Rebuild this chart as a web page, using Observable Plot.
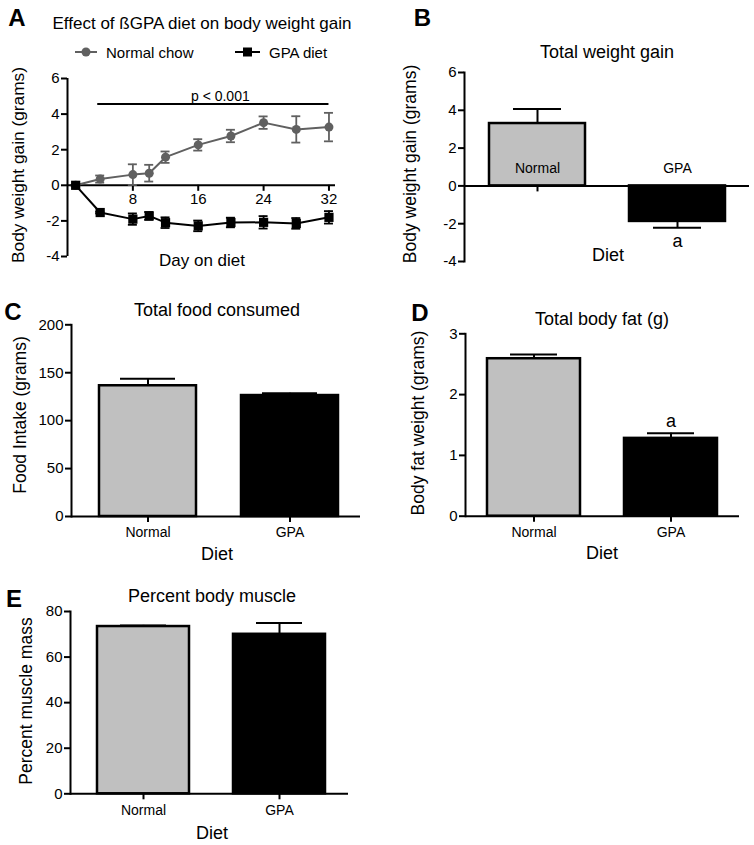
<!DOCTYPE html>
<html><head><meta charset="utf-8">
<script src="https://cdn.jsdelivr.net/npm/d3@7"></script>
<script src="https://cdn.jsdelivr.net/npm/@observablehq/plot@0.6"></script>
<style>
body{margin:0;background:#fff;}
#fig{position:relative;width:754px;height:845px;overflow:hidden;font-family:"Liberation Sans",Arial,Helvetica,sans-serif;color:#000;background:#fff;}
.t{position:absolute;white-space:nowrap;line-height:1;transform:translate(-50%,-50%);}
.l{position:absolute;white-space:nowrap;line-height:1;transform:translate(0,-50%);}
.rot{transform:translate(-50%,-50%) rotate(-90deg);}
.panel{position:absolute;}
.letter{font-weight:bold;font-size:24px;}
</style></head><body><div id="fig"></div>
<script>
// ---------- Panel A data ----------
const days = [1, 4, 8, 10, 12, 16, 20, 24, 28, 32];
const normalChow = [0, 0.35, 0.6, 0.68, 1.58, 2.27, 2.77, 3.52, 3.14, 3.27];
const normalChowErr = [0, 0.2, 0.58, 0.47, 0.32, 0.32, 0.35, 0.35, 0.74, 0.8];
const gpaDiet = [0, -1.53, -1.9, -1.72, -2.1, -2.28, -2.09, -2.08, -2.14, -1.8];
const gpaDietErr = [0, 0.05, 0.32, 0.22, 0.3, 0.3, 0.27, 0.35, 0.3, 0.35];
const dayTicks = [8, 16, 24, 32];
const gainTicks = [-4, -2, 0, 2, 4, 6];
const pValueSpan = [3.7, 32];
const pValueLevel = 4.57;
const pValueText = "p < 0.001";

// ---------- Bar panel data ----------
const diets = ["Normal", "GPA"];
const totalGain = [3.3, -1.88];
const totalGainErr = [0.77, 0.33];
const foodIntake = [136.4, 126.2];
const foodIntakeErr = [7.3, 2.4];
const bodyFat = [2.59, 1.28];
const bodyFatErr = [0.07, 0.085];
const muscle = [73.4, 70.0];
const muscleErr = [0.5, 5.0];
const foodTicks = [0, 50, 100, 150, 200];
const fatTicks = [0, 1, 2, 3];
const muscleTicks = [0, 20, 40, 60, 80];

const FONT = '"Liberation Sans", Arial, Helvetica, sans-serif';
const GRAY = "#606060";
const BARGRAY = "#c0c0c0";
const fig = document.getElementById("fig");

function addText(txt, x, y, size, cls = "t", extra = "") {
  const d = document.createElement("div");
  d.className = cls;
  d.textContent = txt;
  d.style.left = x + "px";
  d.style.top = y + "px";
  d.style.fontSize = size + "px";
  if (extra) d.style.cssText += extra;
  fig.appendChild(d);
  return d;
}
function place(svg, left, top) {
  const w = document.createElement("div");
  w.className = "panel";
  w.style.left = left + "px";
  w.style.top = top + "px";
  w.appendChild(svg);
  fig.appendChild(w);
}
const baseStyle = {fontFamily: FONT, fontSize: "15px", color: "#000", background: "transparent", overflow: "visible"};
const fmt = d => String(d);

// ---------- Panel A ----------
const normalData = days.map((d, i) => ({day: d, v: normalChow[i], e: normalChowErr[i]}));
const gpaData = days.map((d, i) => ({day: d, v: gpaDiet[i], e: gpaDietErr[i]}));
function errMarks(data, color) {
  return [
    Plot.ruleX(data, {x: "day", y1: d => d.v - d.e, y2: d => d.v + d.e, stroke: color, strokeWidth: 1.8}),
    Plot.ruleY(data, {y: d => d.v + d.e, x1: "day", x2: "day", insetLeft: -4.5, insetRight: -4.5, stroke: color, strokeWidth: 1.8}),
    Plot.ruleY(data, {y: d => d.v - d.e, x1: "day", x2: "day", insetLeft: -4.5, insetRight: -4.5, stroke: color, strokeWidth: 1.8})
  ];
}
const plotA = Plot.plot({
  width: 377, height: 280,
  marginLeft: 67, marginRight: 42, marginTop: 78, marginBottom: 24,
  style: baseStyle,
  x: {domain: [0, 32.8], axis: null},
  y: {domain: [-4, 6], axis: null},
  marks: [
    Plot.axisY({ticks: gainTicks, tickSize: 6, tickPadding: 2, fontSize: 15, strokeWidth: 2, tickFormat: fmt, label: null}),
    Plot.ruleX(dayTicks, {x: d => d, y1: 0, y2: 0, insetBottom: -6, strokeWidth: 2}),
    Plot.text(dayTicks, {x: d => d, y: 0, text: fmt, dy: 14, fontSize: 15}),
    Plot.ruleY([0], {strokeWidth: 2}),
    Plot.ruleX([0], {strokeWidth: 2}),
    Plot.ruleY([pValueLevel], {x1: pValueSpan[0], x2: pValueSpan[1], strokeWidth: 2}),
    Plot.text([pValueText], {x: (pValueSpan[0] + pValueSpan[1]) / 2, y: pValueLevel, text: d => d, dy: -7, dx: 7, fontSize: 14}),
    ...errMarks(normalData, GRAY),
    Plot.line(normalData, {x: "day", y: "v", stroke: GRAY, strokeWidth: 2}),
    Plot.dot(normalData, {x: "day", y: "v", r: 4.5, fill: GRAY, symbol: "circle"}),
    ...errMarks(gpaData, "#000"),
    Plot.line(gpaData, {x: "day", y: "v", stroke: "#000", strokeWidth: 2}),
    Plot.dot(gpaData, {x: "day", y: "v", r: 5.2, fill: "#000", symbol: "square"})
  ]
});
place(plotA, 0, 0);
addText("A", 17, 18, 24, "t letter");
addText("Effect of ßGPA diet on body weight gain", 202, 22.5, 17);
addText("Body weight gain (grams)", 19, 165, 17.3, "t rot");
addText("Day on diet", 202, 260, 17);

// legend for panel A
(function () {
  const ns = "http://www.w3.org/2000/svg";
  const svg = document.createElementNS(ns, "svg");
  svg.setAttribute("width", 200); svg.setAttribute("height", 14);
  svg.style.position = "absolute"; svg.style.left = "70px"; svg.style.top = "45px"; svg.style.overflow = "visible";
  const items = [
    {x1: 5, x2: 27, color: GRAY, shape: "circle"},
    {x1: 165, x2: 190, color: "#000", shape: "square"}
  ];
  for (const it of items) {
    const ln = document.createElementNS(ns, "line");
    ln.setAttribute("x1", it.x1); ln.setAttribute("x2", it.x2);
    ln.setAttribute("y1", 7); ln.setAttribute("y2", 7);
    ln.setAttribute("stroke", it.color); ln.setAttribute("stroke-width", 2);
    svg.appendChild(ln);
    const cx = (it.x1 + it.x2) / 2;
    if (it.shape === "circle") {
      const c = document.createElementNS(ns, "circle");
      c.setAttribute("cx", cx); c.setAttribute("cy", 7); c.setAttribute("r", 4.5); c.setAttribute("fill", it.color);
      svg.appendChild(c);
    } else {
      const r = document.createElementNS(ns, "rect");
      r.setAttribute("x", cx - 4.5); r.setAttribute("y", 2.5); r.setAttribute("width", 9); r.setAttribute("height", 9); r.setAttribute("fill", it.color);
      svg.appendChild(r);
    }
  }
  fig.appendChild(svg);
  addText("Normal chow", 106, 52.3, 15, "l");
  addText("GPA diet", 269, 52.3, 15, "l");
})();

// ---------- Bar panel builder ----------
function barPanel(o) {
  const data = diets.map((d, i) => ({diet: d, v: o.values[i], e: o.errs[i]}));
  const tip = d => d.v + Math.sign(d.v) * d.e;
  const marks = [
    Plot.axisY({ticks: o.yTicks, tickSize: 6, tickPadding: 2, fontSize: 15, strokeWidth: 2, tickFormat: fmt, label: null})
  ];
  if (o.insideLabels) {
    marks.push(Plot.ruleX(data, {x: "diet", y1: 0, y2: 0, insetBottom: -6, strokeWidth: 2}));
  } else {
    marks.push(Plot.axisX({tickSize: 6, tickPadding: 5, fontSize: 14, strokeWidth: 2, label: null}));
  }
  marks.push(
    Plot.ruleX(data, {x: "diet", y1: "v", y2: tip, strokeWidth: 2}),
    Plot.tickY(data, {x: "diet", y: tip, insetLeft: o.capInset, insetRight: o.capInset, strokeWidth: 2}),
    Plot.barY(data, {x: "diet", y: "v", fill: "diet", stroke: "#000", strokeWidth: 2.5}),
    Plot.ruleY([0], {strokeWidth: 2}),
    Plot.frame({anchor: "left", strokeWidth: 2})
  );
  if (o.insideLabels) {
    marks.push(Plot.text(data, {x: "diet", y: 0, text: "diet", dy: -17, fontSize: 14}));
  }
  if (o.sig) {
    marks.push(Plot.text(data.filter(d => d.diet === o.sig.diet), {x: "diet", y: tip, text: () => "a", dy: o.sig.dy, fontSize: 18}));
  }
  return Plot.plot({
    width: o.width, height: o.height,
    marginLeft: o.m[0], marginRight: o.m[1], marginTop: o.m[2], marginBottom: o.m[3],
    style: baseStyle,
    x: {domain: diets, paddingInner: o.pad[0], paddingOuter: o.pad[1], align: o.pad[2], axis: null},
    y: {domain: o.yDomain, axis: null},
    color: {domain: diets, range: [BARGRAY, "#000"]},
    marks
  });
}

// ---------- Panel B ----------
place(barPanel({
  values: totalGain, errs: totalGainErr, yTicks: gainTicks, yDomain: [-4, 6],
  width: 377, height: 280, m: [87, 5, 72, 19], pad: [0.316, 0.17, 0.5], capInset: 24,
  insideLabels: true, sig: {diet: "GPA", dy: 14}
}), 377, 0);
addText("B", 422.5, 18, 24, "t letter");
addText("Total weight gain", 607, 51.7, 18);
addText("Body weight gain (grams)", 411, 164, 17.5, "t rot");
addText("Diet", 608, 255, 18);

// ---------- Panel C ----------
place(barPanel({
  values: foodIntake, errs: foodIntakeErr, yTicks: foodTicks, yDomain: [0, 200],
  width: 377, height: 280, m: [71, 17, 44.3, 44], pad: [0.317, 0.1725, 0.55], capInset: 21
}), 0, 280);
addText("C", 13, 312, 24, "t letter");
addText("Total food consumed", 217, 310, 18);
addText("Food Intake (grams)", 21, 415, 17.5, "t rot");
addText("Diet", 217, 554, 18);

// ---------- Panel D ----------
place(barPanel({
  values: bodyFat, errs: bodyFatErr, yTicks: fatTicks, yDomain: [0, 3],
  width: 377, height: 280, m: [88, 15, 53.3, 44.3], pad: [0.32, 0.16, 0.5], capInset: 23,
  sig: {diet: "GPA", dy: -12}
}), 377, 280);
addText("D", 420, 313, 24, "t letter");
addText("Total body fat (g)", 602, 319, 18);
addText("Body fat weight (grams)", 419, 423, 17.5, "t rot");
addText("Diet", 602, 553, 18);

// ---------- Panel E ----------
place(barPanel({
  values: muscle, errs: muscleErr, yTicks: muscleTicks, yDomain: [0, 80],
  width: 377, height: 285, m: [70, 29, 51, 51.7], pad: [0.32, 0.18, 0.55], capInset: 23
}), 0, 560);
addText("E", 14, 599, 24, "t letter");
addText("Percent body muscle", 212, 596, 18);
addText("Percent muscle mass", 27, 701, 17.5, "t rot");
addText("Diet", 212, 833, 18);
</script></body></html>
